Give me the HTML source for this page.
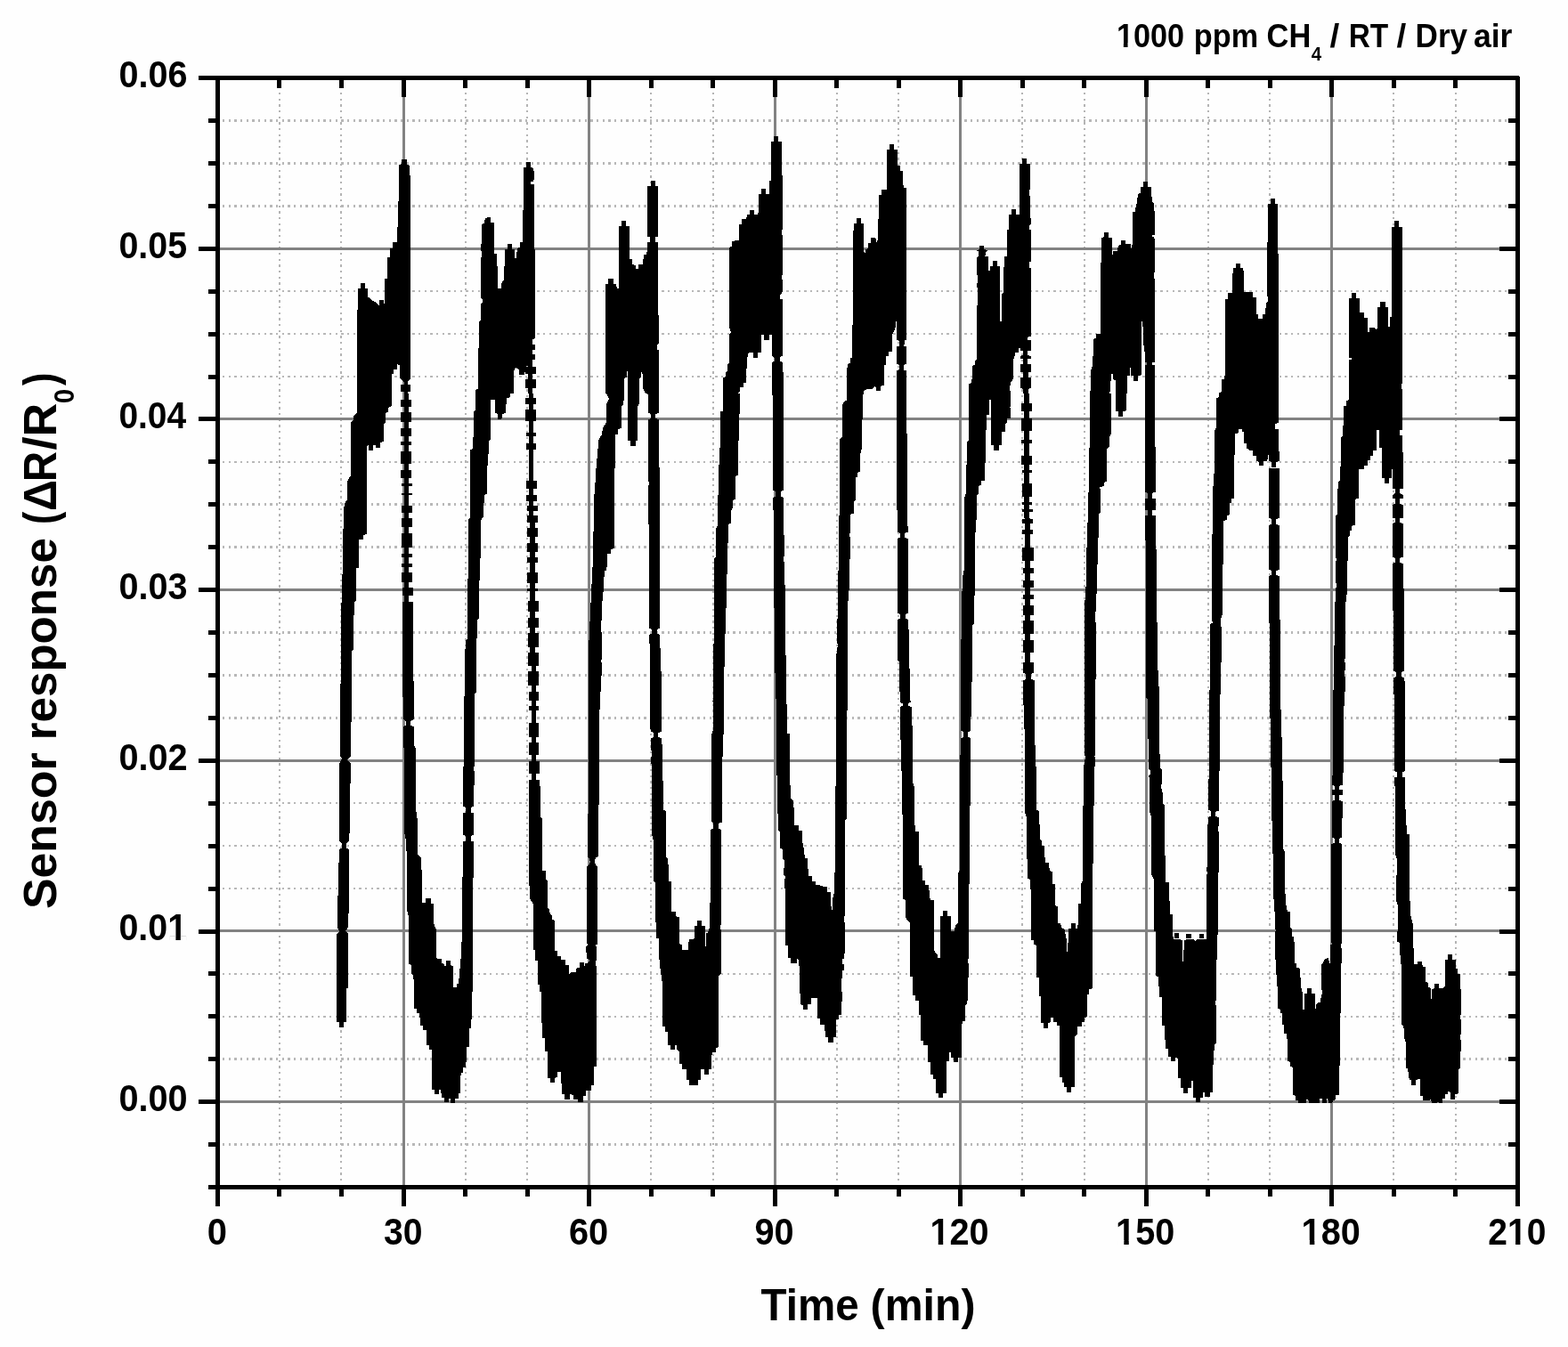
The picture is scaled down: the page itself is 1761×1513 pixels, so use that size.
<!DOCTYPE html>
<html lang="en"><head><meta charset="utf-8"><title>Sensor response</title>
<style>html,body{margin:0;padding:0;background:#fff}body{width:1761px;height:1513px;overflow:hidden}svg{display:block}text{font-family:"Liberation Sans",Arial,Helvetica,sans-serif;font-weight:bold;fill:#000}</style></head><body>
<svg width="1761" height="1513" viewBox="0 0 1761 1513">
<rect width="1761" height="1513" fill="#fefefe"/>
<g shape-rendering="crispEdges" stroke="#b4b4b4" stroke-width="2" stroke-dasharray="2.3 4.367" fill="none">
<path d="M314 104V1330"/>
<path d="M383 104V1330"/>
<path d="M523 104V1330"/>
<path d="M592 104V1330"/>
<path d="M731 104V1330"/>
<path d="M801 104V1330"/>
<path d="M940 104V1330"/>
<path d="M1009 104V1330"/>
<path d="M1148 104V1330"/>
<path d="M1218 104V1330"/>
<path d="M1357 104V1330"/>
<path d="M1426 104V1330"/>
<path d="M1565 104V1330"/>
<path d="M1635 104V1330"/>
</g>
<g shape-rendering="crispEdges" stroke="#b8b8b8" stroke-width="2.5" stroke-dasharray="2.3 4.367" fill="none">
<path d="M250 1285.6H1694"/>
<path d="M250 1189.7H1694"/>
<path d="M250 1141.8H1694"/>
<path d="M250 1093.9H1694"/>
<path d="M250 998.0H1694"/>
<path d="M250 950.1H1694"/>
<path d="M250 902.2H1694"/>
<path d="M250 806.3H1694"/>
<path d="M250 758.4H1694"/>
<path d="M250 710.5H1694"/>
<path d="M250 614.6H1694"/>
<path d="M250 566.7H1694"/>
<path d="M250 518.8H1694"/>
<path d="M250 423.0H1694"/>
<path d="M250 375.0H1694"/>
<path d="M250 327.1H1694"/>
<path d="M250 231.3H1694"/>
<path d="M250 183.3H1694"/>
<path d="M250 135.4H1694"/>
</g>
<g shape-rendering="crispEdges" stroke="#828282" stroke-width="3" fill="none">
<path d="M453.0 90V1331"/>
<path d="M661.6 90V1331"/>
<path d="M870.1 90V1331"/>
<path d="M1078.7 90V1331"/>
<path d="M1287.2 90V1331"/>
<path d="M1495.8 90V1331"/>
<path d="M247 1237.6H1702"/>
<path d="M247 1045.9H1702"/>
<path d="M247 854.3H1702"/>
<path d="M247 662.6H1702"/>
<path d="M247 470.9H1702"/>
<path d="M247 279.2H1702"/>
</g>
<g shape-rendering="crispEdges" fill="#000">
<polygon points="1064.0,1046.0 1088.0,1046.0 1088.0,1076.0 1087.0,1077.0 1087.0,1082.0 1088.0,1083.0 1087.6,1094.0 1087.0,1123.0 1086.0,1124.0 1085.6,1128.4 1084.0,1129.0 1083.6,1146.9 1081.0,1147.5 1080.0,1151.9 1080.0,1187.9 1076.4,1188.3 1076.0,1192.9 1071.0,1192.9 1070.6,1187.9 1068.0,1187.5 1067.6,1182.3 1066.0,1181.9 1065.6,1191.5 1064.0,1191.5"/>
<polygon points="1157.9,1046.0 1157.9,1055.6 1160.9,1056.0 1161.3,1061.0 1163.9,1061.6 1164.3,1097.6 1166.9,1098.0 1167.3,1119.0 1168.9,1119.6 1169.3,1148.9 1171.9,1149.3 1171.9,1154.9 1176.9,1154.9 1177.3,1148.9 1179.5,1148.5 1179.9,1143.3 1182.9,1143.3 1183.3,1147.9 1186.9,1148.3 1187.3,1151.9 1189.9,1152.3 1190.3,1209.9 1192.9,1210.3 1193.3,1215.9 1194.9,1216.3 1195.3,1220.9 1197.9,1221.3 1197.9,1226.9 1202.9,1226.9 1203.3,1220.9 1206.9,1220.5 1207.3,1163.9 1209.9,1161.9 1210.3,1152.9 1214.9,1152.5 1215.3,1147.9 1217.9,1147.5 1218.3,1142.9 1220.9,1142.3 1221.3,1117.0 1222.9,1116.4 1222.9,1111.0 1226.9,1110.4 1226.9,1046.0 1199.9,1046.0 1199.3,1066.0 1197.9,1072.0 1197.5,1054.0 1195.9,1046.0"/>
<polygon points="1297.9,1046.0 1298.3,1096.4 1300.9,1097.0 1301.3,1102.0 1301.9,1119.6 1304.9,1120.0 1305.3,1151.9 1307.9,1152.3 1308.3,1165.9 1309.5,1177.9 1311.9,1178.3 1312.3,1186.9 1314.9,1187.3 1315.3,1191.9 1319.9,1191.9 1320.3,1187.9 1322.9,1188.9 1323.3,1210.9 1325.9,1211.3 1326.3,1221.9 1328.8,1222.3 1328.8,1227.9 1333.8,1227.9 1334.2,1221.9 1337.8,1221.5 1338.2,1213.9 1339.8,1214.3 1340.2,1232.9 1342.8,1233.3 1342.8,1237.9 1347.8,1237.9 1348.2,1232.9 1350.8,1232.5 1351.2,1226.9 1352.8,1226.9 1353.2,1231.9 1358.8,1231.9 1359.2,1226.9 1361.8,1226.5 1362.2,1199.9 1363.2,1188.9 1363.8,1172.9 1365.8,1172.3 1365.8,1130.0 1364.8,1128.0 1365.8,1123.0 1366.2,1078.0 1367.2,1077.0 1367.2,1050.0 1368.2,1049.0 1368.2,1046.0 1355.2,1046.0 1354.8,1055.0 1343.8,1055.0 1342.8,1057.0 1340.8,1055.0 1329.8,1055.6 1329.2,1080.0 1328.2,1080.0 1327.9,1055.6 1317.9,1055.0 1316.9,1046.0"/>
<polygon points="1088.0,441.8 1088.4,430.8 1091.4,430.2 1092.0,410.8 1095.0,410.2 1095.4,404.8 1097.0,404.2 1097.4,343.9 1098.0,337.9 1097.4,319.9 1098.0,311.9 1097.0,305.9 1097.4,288.9 1099.0,287.9 1099.4,281.9 1097.0,281.5 1100.0,279.9 1100.0,275.5 1105.0,275.5 1105.4,279.9 1109.0,281.5 1107.0,282.9 1106.4,287.5 1110.0,288.3 1110.4,303.9 1112.0,303.5 1112.4,298.9 1115.0,298.5 1115.0,292.9 1120.0,292.9 1120.4,298.9 1123.0,299.3 1123.4,360.9 1124.6,360.9 1125.0,330.9 1127.0,328.9 1127.4,301.9 1128.4,288.3 1131.0,287.9 1131.4,258.3 1133.0,257.9 1133.4,240.9 1136.0,240.5 1136.0,234.9 1141.0,234.9 1141.4,240.5 1145.0,240.9 1145.4,184.0 1148.0,183.6 1148.0,178.4 1152.9,178.4 1153.3,184.0 1156.9,184.4 1156.9,213.0 1155.9,214.0 1156.5,220.0 1156.9,244.9 1157.9,245.9 1157.9,251.9 1155.9,252.9 1155.9,257.9 1157.9,258.3 1157.9,293.9 1155.9,294.3 1155.9,300.9 1157.9,301.5 1157.9,377.9 1153.9,378.9 1153.9,381.9 1157.9,382.3 1157.9,393.5 1154.3,393.9 1153.9,398.9 1157.9,399.9 1157.9,402.9 1153.9,403.5 1153.9,408.8 1157.9,409.4 1157.9,417.8 1154.9,418.2 1154.9,423.8 1157.9,424.2 1157.9,435.8 1154.9,436.8 1154.9,441.8 1149.0,441.8 1149.0,436.8 1146.0,435.8 1146.0,424.2 1149.0,423.8 1149.0,418.2 1146.0,417.8 1146.0,409.4 1149.0,408.8 1149.0,403.5 1146.0,402.9 1146.0,399.9 1149.0,398.9 1149.0,393.9 1146.0,393.5 1146.0,390.9 1144.0,391.3 1143.6,395.5 1140.4,395.9 1139.6,399.9 1138.4,402.9 1138.0,425.8 1135.0,429.8 1134.0,435.8 1135.0,441.8"/>
<polygon points="1223.9,441.8 1224.9,437.8 1225.3,415.8 1227.3,409.8 1227.9,380.9 1230.9,379.9 1231.3,375.5 1235.9,374.9 1236.3,309.9 1236.9,266.9 1239.9,266.3 1239.9,261.3 1244.9,261.3 1245.3,266.5 1248.9,266.9 1249.3,287.9 1249.9,282.3 1254.9,281.9 1255.9,275.9 1258.9,274.9 1258.9,269.5 1263.9,269.5 1264.3,274.3 1269.9,274.3 1270.3,279.9 1271.9,272.9 1272.3,237.9 1274.9,237.5 1275.9,230.9 1276.9,228.0 1277.9,218.0 1280.9,217.0 1281.3,210.0 1283.9,209.6 1284.3,204.4 1288.9,204.4 1289.3,210.0 1292.9,210.4 1293.3,217.0 1293.9,227.0 1295.9,228.0 1296.3,236.9 1296.9,237.9 1296.9,263.9 1293.9,264.3 1293.9,265.5 1295.9,265.9 1296.9,269.9 1296.9,305.9 1295.9,306.9 1295.9,312.9 1296.9,313.9 1296.9,406.8 1293.9,407.4 1293.9,409.8 1296.9,410.2 1296.9,441.8 1286.3,441.8 1286.3,410.2 1287.9,409.8 1287.9,407.4 1285.9,406.8 1285.3,388.9 1283.9,387.9 1283.5,366.9 1282.5,360.9 1281.9,361.9 1281.9,421.4 1277.9,421.8 1277.9,427.8 1272.9,427.8 1272.9,422.2 1269.9,421.8 1269.5,412.8 1268.9,421.8 1266.3,422.2 1265.9,441.8 1252.9,441.8 1252.9,426.8 1250.3,426.4 1249.9,419.8 1247.9,419.4 1247.3,432.8 1246.3,441.8"/>
<polygon points="1368.8,441.8 1371.8,439.8 1372.2,426.2 1374.8,425.8 1375.8,419.8 1376.2,336.3 1378.8,335.9 1379.2,328.9 1383.8,328.9 1384.2,312.9 1384.8,301.5 1387.8,300.9 1387.8,295.5 1392.8,295.5 1393.2,300.9 1396.2,301.5 1396.8,305.9 1397.2,327.9 1401.8,328.3 1401.8,333.9 1402.2,328.3 1406.8,328.3 1407.2,333.9 1410.8,334.3 1411.2,352.9 1412.8,353.5 1413.2,357.9 1416.0,358.3 1416.0,441.8"/>
<polygon points="1088.0,442.0 1088.0,495.0 1086.0,496.0 1085.6,522.0 1084.6,526.0 1084.6,554.9 1083.0,559.9 1083.0,639.9 1081.6,643.9 1081.0,661.9 1080.0,665.9 1079.6,717.8 1079.0,721.8 1079.0,743.8 1092.0,743.8 1092.0,701.9 1093.6,700.9 1094.0,669.9 1095.0,667.9 1095.0,601.9 1096.4,590.9 1097.0,555.9 1099.0,554.9 1099.4,545.9 1102.0,544.9 1102.4,539.9 1106.0,539.5 1106.4,525.0 1107.0,501.0 1108.0,466.0 1111.0,465.6 1111.4,449.0 1113.0,449.0 1113.4,500.0 1116.0,500.4 1116.4,506.0 1122.0,506.0 1122.4,500.0 1125.0,499.6 1125.4,485.0 1129.0,484.6 1129.4,476.0 1131.0,475.0 1131.4,470.0 1135.0,469.6 1135.0,458.0 1134.0,457.6 1135.0,457.0 1135.0,442.0"/>
<polygon points="1223.9,442.0 1223.9,502.0 1222.9,504.0 1222.9,551.9 1221.9,553.9 1221.9,585.9 1220.9,587.9 1220.9,613.9 1219.9,615.9 1219.9,657.9 1218.9,659.9 1218.3,681.9 1217.9,721.8 1218.3,743.8 1230.9,743.8 1230.9,699.9 1230.3,697.9 1230.9,667.9 1231.9,665.9 1231.9,634.9 1232.9,632.9 1232.9,604.9 1233.9,602.9 1233.9,577.9 1235.9,575.9 1235.9,553.9 1235.3,546.9 1239.5,546.3 1239.9,541.9 1242.9,540.9 1243.3,504.0 1245.9,502.0 1246.3,490.0 1247.9,488.0 1247.9,442.0"/>
<polygon points="1252.9,442.0 1252.9,461.4 1255.9,462.0 1256.3,467.6 1260.9,467.6 1261.3,462.0 1264.9,461.4 1264.9,442.0"/>
<polygon points="1286.3,442.0 1286.3,552.9 1289.3,553.9 1289.3,559.5 1286.3,560.3 1286.3,572.9 1289.3,573.5 1289.3,578.9 1286.3,579.5 1286.3,605.9 1286.9,607.9 1286.9,743.8 1299.9,743.8 1299.9,699.9 1298.9,697.9 1298.9,617.9 1297.9,615.9 1297.9,579.5 1293.9,578.9 1293.9,573.5 1297.9,572.9 1297.9,560.3 1293.9,559.5 1293.9,553.9 1297.9,552.9 1297.9,502.0 1296.9,501.0 1296.9,442.0"/>
<polygon points="1368.8,442.0 1368.8,446.4 1366.2,447.0 1365.8,481.0 1364.4,483.0 1363.8,531.9 1362.8,533.9 1362.4,549.9 1361.8,597.9 1361.2,601.9 1361.2,697.9 1362.8,698.9 1359.2,700.9 1359.2,743.8 1371.8,743.8 1371.8,705.9 1370.8,700.9 1371.8,691.9 1372.8,690.9 1372.8,635.9 1373.8,633.9 1373.8,586.9 1374.8,584.9 1377.8,583.9 1378.2,578.9 1380.8,578.3 1381.2,565.5 1382.8,564.9 1383.2,559.9 1385.8,559.5 1386.2,539.9 1386.8,487.0 1390.8,486.4 1391.2,482.0 1394.8,482.0 1395.2,485.0 1396.8,485.4 1397.2,498.0 1399.8,498.4 1400.2,504.0 1401.8,504.4 1403.8,506.0 1406.8,506.4 1407.2,512.0 1410.8,512.4 1412.8,518.0 1414.8,522.0 1416.0,522.4 1416.0,442.0"/>
<polygon points="1079.0,744.0 1079.0,821.0 1082.0,822.0 1082.0,828.0 1079.0,829.0 1078.0,867.9 1077.6,977.9 1076.4,979.9 1076.0,1036.8 1074.0,1037.8 1072.0,1042.8 1072.0,1045.8 1088.0,1045.8 1088.0,993.9 1089.0,991.9 1089.0,905.9 1090.0,903.9 1090.0,829.0 1087.0,828.0 1087.0,822.0 1090.0,821.0 1090.0,806.0 1091.0,804.0 1091.0,766.0 1092.0,765.0 1092.0,744.0"/>
<polygon points="1149.0,744.0 1149.0,756.0 1152.0,757.0 1152.0,763.0 1149.0,764.0 1150.0,818.0 1151.0,820.0 1151.4,913.9 1152.9,917.9 1152.9,957.9 1153.9,969.9 1154.3,986.9 1156.9,987.9 1157.3,997.9 1157.9,999.9 1157.9,1045.8 1195.9,1045.8 1195.9,1043.8 1192.9,1042.8 1190.9,1037.4 1187.9,1036.8 1187.9,1017.8 1184.9,1017.4 1184.9,992.9 1181.9,992.5 1181.5,978.9 1178.9,978.3 1177.9,968.9 1173.9,968.5 1173.5,962.9 1172.9,949.9 1170.3,949.5 1169.9,943.9 1167.9,942.9 1167.5,925.9 1166.9,910.9 1163.9,909.9 1163.9,861.9 1162.9,859.9 1162.9,837.9 1161.9,835.9 1161.9,764.0 1157.9,763.0 1157.9,757.0 1160.9,756.0 1160.9,744.0"/>
<polygon points="1217.9,744.0 1217.9,847.9 1218.9,849.9 1217.9,857.9 1216.9,859.9 1216.9,903.9 1215.9,905.9 1215.9,989.9 1214.3,991.9 1213.9,1014.8 1211.3,1015.4 1210.9,1038.8 1209.9,1039.8 1209.9,1045.8 1226.9,1045.8 1226.9,970.9 1227.9,969.9 1227.9,905.9 1228.9,903.9 1228.9,861.9 1229.9,859.9 1229.9,850.9 1228.9,849.9 1229.9,847.9 1229.9,764.0 1230.9,763.0 1230.9,744.0"/>
<polygon points="1286.9,744.0 1286.9,784.0 1288.9,785.0 1289.5,830.0 1289.9,863.9 1291.9,865.9 1291.9,869.9 1289.9,870.9 1290.9,873.9 1291.3,911.9 1292.9,917.9 1293.3,982.9 1295.9,987.9 1295.9,1045.8 1316.9,1045.8 1316.9,1027.4 1313.9,1026.8 1313.9,1012.8 1313.3,1011.8 1312.9,991.3 1308.9,990.9 1308.9,961.9 1307.9,960.9 1307.9,903.9 1306.3,902.9 1305.9,891.9 1304.9,887.9 1303.9,881.9 1304.9,880.9 1304.9,863.9 1302.9,862.9 1302.9,847.9 1301.9,846.9 1301.5,771.0 1300.9,753.0 1299.9,752.0 1299.9,744.0"/>
<polygon points="1358.8,744.0 1358.8,774.0 1357.8,776.0 1357.8,871.9 1356.8,883.9 1357.2,909.9 1359.8,910.9 1359.8,916.9 1356.8,917.9 1356.8,925.9 1355.8,927.9 1355.8,973.9 1354.8,975.9 1355.8,979.9 1354.8,987.9 1354.8,1045.8 1367.8,1045.8 1367.8,981.9 1368.8,979.9 1368.8,935.9 1367.8,929.9 1368.8,927.9 1368.8,917.9 1364.8,916.9 1364.8,911.9 1368.8,910.9 1368.8,867.9 1369.8,865.9 1369.8,781.0 1370.8,780.0 1370.8,744.0"/>
<polygon points="1432.0,1046.0 1432.4,1078.0 1433.4,1080.0 1433.6,1107.0 1435.0,1108.0 1435.4,1133.0 1438.0,1134.0 1438.4,1137.9 1440.0,1138.3 1440.4,1150.9 1442.0,1151.5 1442.4,1160.9 1445.0,1161.5 1445.4,1166.9 1446.4,1167.9 1446.4,1191.9 1449.0,1192.9 1449.4,1197.9 1451.4,1198.9 1452.0,1201.9 1452.4,1229.9 1455.0,1230.9 1455.4,1235.9 1458.0,1236.3 1458.4,1238.9 1467.0,1238.9 1467.4,1234.9 1470.0,1235.9 1470.4,1238.9 1482.0,1238.9 1482.4,1233.9 1485.0,1233.9 1485.4,1238.9 1490.0,1238.9 1490.4,1233.9 1491.4,1234.9 1491.8,1238.9 1496.4,1238.9 1497.0,1235.9 1499.9,1235.3 1500.3,1229.9 1503.9,1229.5 1504.3,1197.9 1504.9,1195.9 1505.3,1137.9 1506.3,1136.9 1505.9,1094.0 1506.9,1074.0 1506.3,1060.0 1506.9,1059.0 1506.9,1046.0 1495.0,1046.0 1495.0,1059.0 1497.0,1060.0 1494.4,1061.0 1494.0,1081.0 1493.0,1082.0 1492.0,1076.0 1488.0,1077.0 1485.4,1082.0 1484.0,1084.0 1484.6,1117.0 1483.4,1121.0 1483.0,1125.6 1481.0,1126.0 1478.0,1128.0 1477.4,1133.6 1477.0,1116.0 1473.4,1115.6 1473.0,1110.0 1468.0,1110.0 1468.0,1115.6 1465.4,1116.0 1465.0,1133.6 1463.0,1133.6 1462.6,1114.0 1461.4,1110.0 1460.4,1096.0 1460.0,1087.6 1456.0,1087.0 1456.0,1082.4 1454.0,1082.0 1453.4,1052.6 1451.4,1052.0 1451.0,1046.0"/>
<polygon points="1568.9,1046.0 1569.3,1058.0 1571.9,1059.0 1572.3,1068.0 1572.9,1082.0 1573.9,1084.0 1574.3,1150.9 1575.9,1152.9 1576.5,1154.9 1577.3,1165.9 1578.9,1170.9 1579.3,1199.9 1581.3,1200.9 1581.9,1208.9 1583.3,1212.9 1584.9,1213.5 1585.3,1218.9 1589.9,1218.9 1590.3,1212.9 1593.9,1211.9 1594.9,1212.9 1595.3,1230.9 1597.9,1231.5 1598.3,1235.9 1604.9,1235.9 1606.9,1234.9 1607.9,1238.9 1613.9,1238.9 1614.9,1236.9 1615.9,1238.9 1619.9,1238.9 1620.3,1233.9 1622.9,1233.5 1623.3,1229.5 1625.9,1228.9 1626.3,1225.9 1628.9,1226.9 1629.3,1234.9 1633.9,1234.9 1634.3,1228.9 1637.9,1228.3 1638.3,1200.9 1639.9,1199.9 1640.3,1181.9 1640.9,1179.9 1640.9,1169.9 1639.9,1165.9 1640.5,1161.9 1640.9,1145.9 1639.9,1143.9 1640.9,1137.9 1640.9,1111.0 1639.9,1110.0 1639.9,1094.0 1636.9,1093.6 1636.5,1088.0 1634.9,1087.6 1634.9,1078.0 1630.9,1077.6 1630.9,1072.0 1625.9,1072.0 1625.9,1077.6 1623.3,1078.0 1622.9,1108.0 1620.9,1110.0 1615.9,1110.4 1615.9,1105.4 1610.9,1105.4 1610.9,1110.4 1608.3,1111.0 1607.9,1122.0 1606.9,1122.0 1606.9,1109.6 1604.3,1109.0 1603.9,1104.0 1601.3,1103.0 1600.9,1086.0 1597.9,1085.6 1596.9,1080.4 1591.9,1080.4 1591.5,1083.0 1587.9,1083.0 1587.5,1065.0 1586.9,1064.0 1586.9,1046.0"/>
<polygon points="1409.0,441.8 1409.0,333.9 1411.0,334.3 1411.4,352.9 1413.0,353.5 1413.4,357.9 1418.0,357.9 1418.4,353.5 1421.0,352.9 1422.0,339.9 1424.0,338.9 1423.4,331.9 1423.0,271.9 1424.4,270.9 1424.4,228.9 1427.0,228.5 1427.0,223.4 1432.0,223.4 1432.4,228.9 1435.0,229.3 1435.0,284.9 1436.0,285.9 1436.0,441.8"/>
<polygon points="1514.9,441.8 1514.9,403.9 1517.9,403.5 1517.9,401.9 1514.9,401.5 1514.9,334.9 1517.9,334.5 1517.9,328.9 1522.9,328.9 1523.3,334.9 1526.9,335.3 1526.9,350.9 1531.9,351.3 1531.9,356.5 1535.9,356.9 1536.3,372.9 1537.9,372.9 1538.3,367.9 1543.9,367.9 1544.9,369.9 1546.9,368.9 1546.9,344.9 1549.9,344.5 1549.9,338.9 1555.9,338.9 1556.3,344.5 1558.9,344.9 1559.3,366.9 1561.3,366.9 1561.5,355.9 1562.9,355.5 1563.3,254.9 1565.9,254.5 1565.9,247.9 1570.9,247.9 1571.3,254.5 1574.9,254.9 1574.9,430.8 1573.9,431.8 1573.9,436.8 1574.9,437.8 1574.9,441.8"/>
<polygon points="1409.0,442.0 1436.0,442.0 1436.0,475.0 1432.0,476.0 1432.0,481.6 1436.0,482.0 1436.4,507.0 1437.0,508.0 1437.0,518.0 1433.0,519.0 1433.0,525.0 1428.0,525.0 1428.0,519.0 1425.4,518.0 1425.0,513.0 1424.0,509.0 1423.4,517.6 1419.0,518.0 1418.6,523.0 1414.0,523.0 1413.6,518.0 1411.0,517.6 1410.6,512.0 1409.0,511.6"/>
<polygon points="1425.0,526.0 1425.0,581.9 1428.0,582.9 1428.0,588.9 1425.0,589.9 1425.0,639.9 1428.0,640.9 1428.0,645.9 1425.0,646.9 1425.0,698.9 1426.0,700.9 1426.4,743.8 1438.0,743.8 1438.0,696.9 1437.0,695.9 1437.0,646.9 1433.0,645.9 1433.0,640.9 1437.0,639.9 1437.0,589.9 1433.0,588.9 1433.0,582.9 1437.0,581.9 1437.0,526.0"/>
<polygon points="1514.9,442.0 1514.5,449.6 1511.9,450.0 1511.9,455.6 1508.9,456.0 1508.3,490.0 1506.3,491.0 1505.9,524.0 1504.9,525.0 1504.9,540.3 1502.9,540.9 1502.5,548.9 1501.9,577.9 1500.3,578.9 1499.9,625.9 1500.9,627.9 1499.9,633.9 1500.3,653.9 1500.9,655.9 1499.9,665.9 1499.3,681.9 1498.9,723.8 1497.9,725.8 1497.9,743.8 1509.9,743.8 1510.9,737.8 1510.9,676.9 1511.9,675.9 1512.5,668.9 1512.9,630.9 1513.9,629.9 1514.3,602.9 1515.9,601.9 1516.3,595.9 1517.9,595.5 1517.9,590.9 1521.9,589.9 1521.9,561.9 1522.9,559.9 1525.9,559.5 1526.3,527.0 1531.9,526.6 1532.3,523.0 1535.9,522.6 1536.3,517.0 1538.9,516.6 1539.3,512.0 1541.9,511.6 1542.3,506.4 1545.9,506.0 1546.3,483.0 1548.9,483.0 1549.3,503.0 1551.9,503.4 1552.3,536.9 1554.9,537.3 1555.3,542.5 1559.9,542.5 1560.3,536.9 1562.9,536.5 1563.3,527.0 1564.3,528.0 1564.3,548.9 1566.9,549.5 1566.9,553.9 1564.3,555.9 1564.3,559.9 1566.9,560.3 1566.9,565.9 1564.3,566.9 1564.3,581.9 1566.9,582.3 1566.9,586.9 1564.3,587.9 1564.3,625.9 1566.9,626.9 1566.9,631.9 1564.3,632.9 1564.3,685.9 1565.3,687.9 1565.3,743.8 1576.9,743.8 1576.9,661.9 1575.9,659.9 1575.9,632.9 1571.9,631.9 1571.9,626.9 1575.9,625.9 1575.9,587.9 1571.9,586.9 1571.9,582.3 1575.9,581.9 1575.9,566.9 1571.9,565.9 1571.9,560.3 1575.9,559.9 1575.9,555.9 1571.9,553.9 1571.9,549.5 1575.9,548.9 1575.9,508.0 1574.9,507.0 1574.9,489.0 1571.9,488.4 1571.9,483.0 1574.9,482.6 1574.9,442.0"/>
<polygon points="1426.4,744.0 1426.4,804.0 1427.4,828.0 1427.6,889.9 1428.4,917.9 1429.6,962.9 1430.6,1013.8 1432.0,1029.8 1432.6,1045.8 1451.0,1045.8 1451.0,1043.8 1449.0,1041.8 1448.6,1024.2 1446.0,1023.8 1444.6,1018.8 1444.0,1004.9 1443.0,1003.9 1442.6,955.9 1441.0,952.9 1441.0,877.9 1440.0,875.9 1440.0,829.0 1439.4,828.0 1439.0,798.0 1438.0,797.0 1438.0,744.0"/>
<polygon points="1497.9,744.0 1497.5,776.0 1497.0,824.0 1496.4,881.9 1498.9,882.9 1498.9,886.9 1496.4,887.5 1496.4,892.9 1498.9,893.5 1498.9,898.9 1496.4,899.9 1496.4,940.9 1498.9,941.9 1498.9,946.9 1495.4,947.9 1495.0,1045.8 1506.9,1045.8 1506.9,947.9 1503.9,946.9 1503.9,941.9 1506.9,940.9 1506.9,919.9 1507.9,917.9 1507.9,899.9 1503.9,898.9 1503.9,893.5 1507.9,892.9 1507.9,887.5 1503.9,886.9 1503.9,882.9 1507.9,881.9 1507.9,868.9 1508.9,866.9 1508.9,794.0 1509.5,793.0 1509.9,778.0 1510.9,776.0 1510.9,764.0 1509.9,754.0 1510.9,752.0 1510.5,744.0"/>
<polygon points="1565.3,744.0 1565.3,754.0 1568.3,755.0 1568.3,760.0 1565.3,761.0 1565.9,814.0 1566.3,865.9 1568.9,867.5 1568.9,872.9 1566.3,873.5 1566.3,882.9 1567.3,884.9 1567.5,960.9 1568.5,963.9 1568.5,982.9 1567.9,984.9 1568.3,1012.8 1569.5,1015.8 1569.5,1045.8 1586.9,1045.8 1586.9,1037.8 1585.9,1036.8 1585.3,1030.8 1584.3,1028.8 1583.9,1012.8 1582.9,1011.8 1582.9,937.3 1580.3,936.9 1580.3,928.9 1579.3,926.9 1578.9,909.9 1578.3,908.9 1577.9,873.5 1574.9,872.9 1574.9,867.5 1577.9,865.9 1577.9,766.0 1576.5,761.0 1573.9,760.0 1573.9,755.0 1576.9,754.0 1576.9,744.0"/>
<polygon points="381.0,1046.0 378.0,1049.0 378.0,1147.9 381.0,1148.3 381.0,1153.9 386.0,1153.9 386.0,1148.3 389.0,1147.9 389.0,1110.0 391.0,1109.6 391.0,1049.0 388.0,1046.0"/>
<polygon points="458.9,1046.0 459.3,1083.0 461.9,1083.6 462.3,1094.0 464.3,1095.0 464.9,1110.0 465.3,1133.0 467.9,1133.4 468.5,1137.9 471.3,1138.3 471.9,1151.9 474.9,1152.3 475.3,1156.9 478.9,1157.3 479.3,1173.9 481.9,1174.3 482.3,1178.9 484.9,1179.3 485.3,1223.9 487.9,1224.3 488.3,1228.9 492.9,1228.9 493.3,1223.9 495.3,1224.9 495.9,1232.9 498.9,1233.3 499.3,1237.9 503.9,1237.9 504.3,1233.9 505.9,1233.9 506.3,1238.9 510.9,1238.9 511.3,1233.9 514.9,1233.5 515.3,1228.3 516.9,1227.9 517.3,1208.9 518.3,1204.9 519.9,1204.5 520.3,1198.9 522.9,1198.5 523.5,1192.9 524.3,1175.9 526.9,1175.5 527.3,1154.9 528.9,1154.5 529.9,1138.9 530.3,1114.0 530.9,1113.0 531.3,1046.0 519.3,1046.0 519.3,1057.0 517.9,1058.0 517.3,1087.0 515.9,1088.0 515.3,1104.6 513.3,1105.0 512.9,1109.4 509.3,1109.0 508.9,1085.0 506.3,1084.4 505.9,1079.0 500.9,1079.0 500.9,1084.4 499.3,1085.0 498.9,1082.6 496.3,1082.0 495.9,1077.4 490.9,1077.0 490.3,1075.0 489.9,1046.0"/>
<polygon points="598.9,1046.0 599.3,1067.0 601.3,1067.6 601.5,1079.0 603.9,1079.4 604.3,1106.0 605.9,1106.4 606.3,1114.0 607.9,1114.4 608.3,1147.9 608.9,1151.9 609.3,1165.9 611.9,1166.3 612.3,1180.9 614.9,1181.3 615.3,1210.9 617.9,1211.3 618.3,1215.9 622.9,1215.9 623.3,1210.9 625.8,1209.9 626.2,1203.9 629.8,1203.5 630.2,1211.9 631.2,1228.9 633.8,1229.3 634.2,1234.9 639.8,1234.9 640.2,1228.9 643.8,1229.9 644.2,1234.9 648.8,1235.3 649.2,1238.3 654.8,1238.3 655.2,1230.9 657.8,1230.5 658.2,1224.9 663.8,1224.5 664.2,1218.9 666.8,1218.5 667.2,1197.9 669.8,1197.5 670.2,1085.0 668.8,1084.0 669.8,1077.0 670.2,1063.0 668.8,1062.0 671.2,1060.0 671.2,1046.0 659.2,1046.0 659.2,1060.0 660.8,1062.0 658.2,1063.0 658.8,1077.0 662.8,1078.0 659.8,1082.0 657.2,1082.4 656.2,1086.0 655.8,1081.0 651.2,1081.0 650.8,1086.6 647.8,1087.0 646.8,1092.0 640.8,1092.0 639.2,1095.0 638.8,1084.0 635.2,1083.6 634.8,1078.4 630.2,1078.0 629.8,1074.4 626.2,1074.0 625.8,1068.4 623.3,1068.0 622.9,1046.0"/>
<polygon points="401.4,441.8 401.4,353.9 402.0,323.9 405.0,323.5 405.0,317.9 410.0,317.9 410.4,323.5 413.0,323.9 413.0,333.9 416.0,334.9 418.0,337.9 421.0,338.9 424.0,340.9 425.6,342.9 426.0,336.9 431.0,336.9 431.6,341.9 432.0,312.9 435.0,312.9 435.4,288.9 438.0,288.9 438.4,278.9 441.0,278.9 441.4,271.9 446.0,271.9 446.4,257.9 447.4,235.9 448.0,185.0 450.9,184.4 450.9,179.0 456.9,179.0 457.3,185.0 459.9,185.6 460.9,204.0 460.9,425.8 456.9,428.8 452.9,428.8 448.9,423.8 448.9,409.8 446.0,409.4 445.6,414.8 442.0,415.4 441.6,419.8 440.0,420.8 440.0,441.8"/>
<polygon points="533.9,441.8 534.3,437.8 536.9,436.8 537.9,361.9 539.9,359.9 540.5,340.9 541.9,339.9 541.9,335.9 540.5,334.9 540.3,291.9 540.9,283.9 539.9,279.9 540.9,269.9 541.3,251.9 543.9,250.9 544.9,244.9 550.9,243.9 551.3,249.9 554.9,249.9 555.3,284.9 557.9,284.9 558.5,298.9 559.1,323.9 562.9,323.9 563.5,317.9 565.9,313.9 567.3,279.9 569.9,279.9 570.3,274.3 574.9,274.3 575.5,279.9 577.5,279.9 578.3,289.9 579.9,289.9 580.5,282.9 581.3,278.9 583.9,277.9 584.3,271.9 586.9,271.9 587.3,251.9 587.9,207.0 588.3,188.0 590.9,187.6 591.3,182.4 595.9,182.4 596.3,188.0 598.9,189.0 599.9,194.0 599.9,200.0 598.9,204.0 596.3,204.4 595.9,207.0 599.5,207.4 599.9,269.9 600.9,285.9 600.9,379.9 597.9,381.9 597.9,409.8 589.9,411.8 589.3,420.8 583.5,420.8 582.9,414.8 578.9,412.8 576.9,417.8 576.9,441.8"/>
<polygon points="680.4,441.8 679.8,389.9 680.4,318.9 683.2,318.5 683.4,313.3 688.8,313.3 689.2,318.9 692.2,319.3 692.8,323.9 694.8,323.9 695.2,253.9 697.8,253.5 698.2,248.3 703.2,248.3 703.4,253.5 706.8,253.9 707.4,290.9 709.8,291.3 709.8,296.9 712.0,296.9 712.0,441.8 704.8,441.8 704.8,414.8 703.8,423.8 700.8,424.8 700.8,441.8"/>
<polygon points="401.4,442.0 401.0,464.0 397.0,467.0 396.6,472.0 394.4,474.0 394.4,500.0 394.0,533.9 390.4,539.9 390.0,561.9 388.0,562.9 386.4,569.9 386.0,585.9 385.0,601.9 385.0,641.9 384.0,647.9 384.0,675.9 383.0,677.9 383.0,743.8 395.0,743.8 395.0,730.8 397.0,729.8 397.6,684.9 398.0,676.9 399.6,674.9 400.0,638.3 402.6,637.5 403.0,605.9 407.6,605.5 408.0,600.9 412.0,599.9 412.0,501.0 414.0,500.0 414.4,505.6 418.6,505.6 419.0,500.0 422.0,500.0 422.4,502.6 426.6,502.6 427.0,497.0 431.0,496.0 431.0,476.0 432.6,475.0 433.0,464.0 435.6,463.0 436.0,458.0 440.0,456.0 440.0,442.0"/>
<polygon points="533.9,442.0 533.9,461.0 531.9,462.0 531.5,492.0 530.9,504.0 528.3,505.6 527.9,581.9 526.3,582.9 525.9,641.9 524.9,661.9 525.5,681.9 524.9,717.8 522.9,719.8 521.9,743.8 534.9,743.8 535.5,716.8 535.9,695.9 537.9,694.9 537.5,661.9 538.9,647.9 539.9,613.9 540.5,583.9 542.9,579.9 543.9,555.9 546.9,554.9 547.5,523.0 548.5,510.0 548.9,495.0 550.9,494.0 551.3,449.0 555.5,449.0 556.3,464.0 558.9,465.0 559.3,470.6 563.5,470.6 563.9,465.0 567.9,464.0 568.9,447.0 572.5,446.4 572.9,442.0"/>
<polygon points="680.8,442.0 683.8,448.0 680.8,454.0 680.8,475.0 677.8,479.0 675.4,489.0 672.2,494.0 671.4,506.0 669.8,522.0 668.8,537.9 667.4,556.9 666.8,581.9 665.8,631.9 664.2,661.9 662.8,691.9 661.4,721.8 660.8,743.8 675.4,743.8 675.8,734.8 675.4,699.9 676.4,675.9 677.8,661.9 678.8,641.9 681.4,639.9 682.2,621.9 685.8,621.5 686.2,616.9 689.8,615.9 690.2,569.9 690.8,488.0 693.8,487.6 694.2,482.0 697.8,481.0 698.2,456.0 700.4,454.0 700.8,442.0"/>
<polygon points="705.4,442.0 705.4,495.0 707.8,495.0 707.8,501.0 712.0,501.0 712.0,442.0"/>
<polygon points="383.0,744.0 382.4,774.0 382.0,849.9 384.0,851.9 381.0,857.9 381.0,943.9 384.0,947.9 384.0,952.9 381.0,953.9 380.0,983.9 379.0,1027.8 379.0,1041.8 381.0,1045.8 388.0,1045.8 391.0,1041.8 391.6,1023.8 392.0,983.9 392.0,953.9 389.0,952.9 389.0,947.9 392.0,943.9 393.0,927.9 393.6,871.9 394.0,857.9 390.0,852.9 394.0,849.9 395.0,774.0 395.0,744.0"/>
<polygon points="451.9,744.0 452.3,770.0 452.9,808.0 455.9,810.0 455.9,815.0 452.9,816.0 453.5,839.9 453.9,933.9 455.9,943.9 456.9,963.9 457.5,1023.8 458.9,1029.8 459.5,1045.8 489.9,1045.8 489.9,1043.8 487.3,1037.8 486.9,1015.4 483.9,1014.8 483.9,1008.8 477.9,1008.8 477.9,1013.8 474.3,1013.8 473.9,985.9 472.9,962.9 469.3,959.9 468.9,921.9 466.9,907.9 466.9,840.9 465.3,837.9 464.9,816.0 460.9,815.0 460.9,810.0 464.9,808.0 464.9,766.0 463.9,764.0 463.9,744.0"/>
<polygon points="521.9,744.0 521.9,774.0 520.9,796.0 520.9,859.9 519.9,863.9 519.9,905.9 522.9,906.9 522.9,912.9 519.9,912.9 519.9,937.9 522.9,938.9 522.9,944.9 519.9,944.9 519.9,983.9 518.9,985.9 518.9,1045.8 530.9,1045.8 530.9,988.9 531.5,986.9 531.9,944.9 528.9,944.9 528.9,938.9 531.9,937.9 531.9,912.9 528.9,912.9 528.9,906.9 531.9,905.9 532.9,867.9 531.9,863.9 532.9,859.9 532.9,780.0 534.9,778.0 534.9,744.0"/>
<polygon points="593.9,875.9 593.9,985.9 595.5,1009.8 598.9,1015.8 598.9,1045.8 623.3,1045.8 622.9,1033.8 620.5,1032.8 619.9,1027.8 617.9,1026.8 616.9,1020.8 615.5,1019.8 614.9,988.9 613.5,987.9 612.9,978.3 609.3,977.9 608.9,919.9 606.9,917.9 606.9,887.9 605.9,875.9"/>
<polygon points="660.8,744.0 660.8,913.9 659.8,915.9 659.8,961.9 661.8,963.9 662.8,968.9 659.2,973.9 659.2,1045.8 670.8,1045.8 670.8,973.9 667.8,968.9 668.8,963.9 671.8,961.9 671.8,905.9 672.8,903.9 672.8,798.0 673.8,796.0 674.8,770.0 675.8,754.0 675.8,744.0"/>
<polygon points="737.0,1046.0 737.0,1054.0 740.0,1054.4 740.4,1078.0 741.4,1080.0 741.6,1094.0 743.0,1095.0 743.4,1102.0 744.4,1103.0 744.4,1152.9 747.0,1153.3 747.4,1158.9 750.0,1159.3 750.4,1173.9 753.0,1174.3 753.4,1178.9 758.0,1178.9 758.4,1173.9 760.0,1174.3 760.6,1179.9 763.0,1180.9 763.4,1194.9 766.0,1195.3 766.4,1200.9 771.0,1201.3 771.4,1212.9 774.0,1213.3 774.4,1218.9 784.0,1218.9 784.4,1212.9 787.0,1212.5 787.4,1200.9 791.0,1200.9 791.4,1206.9 796.0,1206.9 796.0,1200.9 799.0,1200.5 799.4,1185.9 800.0,1181.9 803.9,1181.5 804.3,1176.9 806.9,1176.3 807.3,1096.0 809.9,1094.0 809.9,1046.0 795.0,1046.0 795.0,1047.6 793.0,1048.0 793.0,1063.0 792.0,1063.0 792.0,1046.0 780.0,1046.0 780.0,1054.4 774.0,1055.0 773.0,1060.4 772.6,1066.6 766.4,1066.6 766.4,1061.0 763.0,1060.4 763.0,1046.0"/>
<polygon points="881.9,1046.0 881.9,1061.6 884.9,1062.0 885.3,1076.0 887.9,1076.4 887.9,1082.0 894.9,1082.0 895.3,1077.0 896.9,1078.0 897.3,1085.0 898.3,1086.0 898.5,1116.4 899.3,1117.0 899.5,1128.4 901.9,1128.8 902.3,1133.6 906.9,1133.6 907.3,1128.4 910.9,1128.0 911.3,1121.0 917.5,1121.0 917.9,1143.9 920.9,1144.5 921.3,1150.5 925.9,1150.9 926.3,1157.9 927.3,1158.9 927.5,1164.9 929.9,1165.3 930.3,1170.9 935.9,1170.9 936.3,1164.9 938.9,1164.5 939.3,1144.9 941.9,1144.5 942.3,1139.9 944.9,1139.5 945.3,1125.0 945.9,1124.0 945.9,1114.0 944.9,1113.0 945.9,1090.0 947.9,1089.6 947.9,1083.0 945.9,1082.6 946.3,1077.0 947.9,1076.6 948.3,1071.0 949.3,1070.0 949.3,1046.0"/>
<polygon points="1021.8,1046.0 1022.2,1096.6 1024.8,1097.0 1025.2,1117.6 1027.8,1118.0 1028.2,1124.0 1031.8,1124.4 1032.4,1139.9 1033.8,1140.3 1034.2,1168.9 1036.8,1169.3 1037.2,1173.9 1041.8,1174.3 1042.2,1192.5 1044.8,1192.9 1045.2,1206.5 1047.8,1206.9 1048.2,1211.9 1050.8,1212.3 1051.2,1227.9 1053.8,1228.3 1054.2,1232.9 1058.8,1232.9 1059.2,1227.9 1062.8,1227.5 1063.2,1191.9 1064.0,1191.5 1064.0,1046.0 1055.8,1046.0 1055.8,1076.0 1052.8,1076.0 1052.4,1071.0 1049.8,1070.0 1049.2,1066.0 1048.8,1046.0"/>
<polygon points="712.0,297.9 714.0,297.9 714.4,302.3 717.0,302.3 717.4,297.5 722.0,297.1 722.4,291.9 723.4,286.3 726.4,285.9 727.0,272.3 730.0,271.9 730.4,265.9 727.4,265.5 727.4,209.0 731.0,208.6 731.0,203.0 736.0,203.0 736.0,208.6 739.0,209.0 739.0,265.5 736.0,265.9 735.6,271.9 739.0,272.3 739.4,353.9 740.0,354.9 740.0,385.9 738.0,386.9 738.0,392.9 740.0,393.5 740.0,441.8 725.0,441.8 722.0,435.8 721.4,416.8 720.4,417.8 720.0,423.8 718.4,424.8 718.0,441.8 712.0,441.8"/>
<polygon points="812.3,441.8 812.3,423.8 814.9,423.4 815.3,417.8 816.9,417.4 817.3,408.8 818.9,407.8 819.3,374.9 820.9,373.9 819.3,367.9 819.3,277.9 821.9,276.9 822.3,270.9 829.9,269.9 830.3,251.9 832.9,251.5 832.9,245.9 838.3,245.9 838.9,240.9 841.9,240.9 841.9,235.5 846.9,235.5 847.3,240.9 850.9,241.3 851.3,244.9 852.3,218.0 854.9,217.6 855.3,212.4 859.9,212.4 860.3,217.6 863.9,217.6 864.3,203.0 865.9,202.6 866.3,159.0 868.9,158.6 869.3,153.0 873.9,153.0 874.3,158.6 877.9,159.4 878.3,165.0 878.9,257.9 877.9,258.9 877.9,263.9 878.9,264.3 879.3,308.9 877.9,309.9 878.9,315.9 878.9,327.9 875.9,331.9 875.9,335.9 878.9,336.3 878.9,399.9 875.9,400.9 875.9,405.8 878.9,406.8 879.9,425.8 879.9,441.8 867.3,441.8 867.3,406.8 869.9,405.8 869.9,401.9 867.3,399.9 866.9,375.9 864.3,375.9 863.9,381.9 858.3,381.9 857.9,375.9 855.3,375.9 854.9,395.5 851.3,395.9 850.9,401.9 845.9,401.9 845.5,396.3 842.9,395.9 839.9,396.9 839.3,403.9 838.3,416.8 837.9,429.8 835.3,430.2 834.9,434.8 831.3,435.2 830.9,439.8 828.9,441.8"/>
<polygon points="950.9,441.8 951.3,415.8 951.9,408.8 954.9,407.8 955.3,401.9 956.9,401.5 957.5,365.9 958.3,335.9 957.9,329.9 957.9,259.9 959.3,257.9 959.5,250.9 961.9,250.5 961.9,244.9 967.3,244.9 967.5,250.5 969.9,250.9 970.3,282.9 971.5,283.9 971.9,279.9 974.9,279.3 975.3,273.5 977.8,272.9 978.2,266.9 983.4,266.9 983.8,271.9 985.4,271.9 986.2,258.9 987.2,219.0 989.8,218.6 990.2,213.0 995.8,213.0 996.2,168.0 998.8,167.6 998.8,162.0 1004.2,162.0 1004.4,167.6 1007.8,168.0 1008.2,186.0 1010.8,186.4 1011.2,191.6 1013.8,192.0 1014.2,207.0 1015.2,211.0 1017.8,211.4 1018.2,381.9 1015.8,382.3 1015.4,388.9 1018.2,389.3 1018.2,408.8 1015.4,409.8 1015.4,415.8 1018.2,416.2 1018.2,441.8 1007.2,441.8 1007.2,416.2 1009.8,415.4 1009.8,409.8 1007.2,408.8 1007.2,389.3 1009.8,388.5 1009.8,382.9 1007.2,381.9 1006.8,360.9 1005.8,361.9 1005.4,370.9 1003.8,371.9 1003.2,374.9 1001.8,375.9 1001.8,394.9 998.2,395.3 997.8,399.9 995.2,400.3 994.8,409.8 993.2,410.2 992.8,432.8 988.8,433.8 988.8,438.8 983.8,439.2 983.4,433.8 981.8,433.8 981.2,435.8 978.8,436.8 973.9,437.2 969.9,438.8 969.9,441.8"/>
<polygon points="712.0,442.0 718.0,442.0 717.6,454.0 716.4,456.0 716.4,495.0 714.0,495.6 714.0,501.0 712.0,501.0"/>
<polygon points="725.0,442.0 728.0,443.0 728.0,464.0 731.0,465.0 731.0,470.0 728.0,471.0 728.0,539.9 729.0,541.9 728.0,547.9 728.0,587.9 729.0,589.9 729.0,705.9 732.0,706.8 732.0,711.8 729.0,712.8 729.0,721.8 730.0,723.8 730.4,737.8 730.0,743.8 742.0,743.8 742.0,728.8 741.0,727.8 741.0,712.8 738.0,711.8 738.0,706.8 741.0,705.9 741.0,526.0 740.0,525.0 740.0,471.0 736.0,470.0 736.0,465.0 740.0,464.0 740.0,442.0"/>
<polygon points="811.9,442.0 811.9,462.0 808.9,462.4 808.9,502.0 807.9,504.0 807.5,522.0 806.9,551.9 805.9,561.9 805.5,591.9 803.9,592.9 803.9,625.9 801.9,626.9 801.9,721.8 800.9,725.8 800.9,743.8 813.9,743.8 813.9,712.8 814.9,711.8 814.9,683.9 815.9,681.9 815.9,645.9 816.9,643.9 816.9,611.9 817.5,609.9 817.9,588.9 820.9,587.9 820.9,573.9 822.5,570.9 822.9,561.9 825.9,560.9 825.9,534.9 828.9,533.9 829.5,496.0 829.9,466.0 830.9,464.0 830.9,442.0"/>
<polygon points="867.3,442.0 867.9,448.0 867.9,550.9 870.9,551.9 870.9,557.9 867.9,558.9 867.9,571.9 868.9,573.9 868.9,629.9 868.9,681.9 869.9,683.9 869.9,743.8 882.9,743.8 882.9,736.8 881.9,735.8 881.9,657.9 880.9,656.9 880.9,631.9 879.9,630.9 879.9,625.9 880.9,623.9 880.9,601.9 879.9,599.9 879.9,558.9 876.9,557.9 876.9,551.9 879.9,550.9 879.9,442.0"/>
<polygon points="950.9,442.0 950.9,450.0 947.9,451.0 945.9,456.0 945.5,492.0 943.3,493.0 942.9,577.9 941.9,579.9 941.9,639.9 940.9,641.9 940.9,693.9 939.9,695.9 939.9,721.8 940.9,723.8 939.3,735.8 939.3,743.8 951.9,743.8 951.9,675.9 952.9,674.9 952.9,663.9 953.9,661.9 953.9,628.9 954.9,627.9 954.9,604.9 953.9,599.9 954.9,597.9 954.9,577.9 958.9,576.9 958.9,562.9 960.9,561.9 960.9,535.9 962.9,535.5 962.9,530.9 965.9,530.0 965.9,510.0 966.9,509.0 967.9,502.0 967.9,472.0 968.9,471.0 968.9,444.0 969.9,442.0"/>
<polygon points="1007.2,442.0 1007.2,571.9 1008.2,573.9 1008.2,597.9 1011.2,598.9 1011.2,603.9 1008.2,604.9 1008.2,688.9 1011.2,689.9 1011.2,694.9 1008.2,695.9 1008.2,741.8 1009.8,743.8 1020.8,743.8 1020.8,706.8 1019.8,705.9 1019.8,695.9 1016.8,694.9 1016.8,689.9 1019.8,688.9 1019.8,604.9 1015.8,603.9 1015.8,598.9 1019.8,597.9 1019.8,591.9 1018.8,589.9 1018.8,487.0 1017.8,486.0 1017.8,442.0"/>
<polygon points="730.0,744.0 730.0,816.0 731.0,822.0 734.0,823.0 734.0,828.0 731.0,829.0 731.0,841.9 732.0,843.9 731.0,855.9 732.0,859.9 732.0,935.9 733.0,941.9 734.0,943.9 734.0,989.9 736.0,991.9 736.4,1035.8 737.0,1037.8 737.0,1045.8 763.0,1045.8 763.0,1029.8 759.0,1029.4 759.0,1024.2 754.0,1023.8 754.0,990.3 751.0,989.9 751.0,971.9 750.0,970.9 750.0,963.9 748.0,962.9 748.0,910.9 745.0,909.9 745.0,877.9 744.0,875.9 744.0,836.9 743.0,835.9 743.0,829.0 739.0,828.0 739.0,823.0 743.0,822.0 743.0,755.0 742.0,754.0 742.0,744.0"/>
<polygon points="800.9,744.0 800.5,788.0 800.9,820.0 799.4,824.0 799.0,922.9 800.9,924.9 800.9,930.9 798.0,931.9 798.0,1013.8 797.0,1014.8 797.0,1039.8 796.0,1045.8 809.9,1045.8 808.9,1041.8 809.9,1037.8 809.9,931.9 806.9,930.9 806.9,924.9 810.9,923.9 810.9,850.9 811.9,849.9 811.9,826.0 812.9,825.0 812.9,750.0 813.5,749.0 813.9,744.0"/>
<polygon points="869.9,744.0 870.9,764.0 871.9,798.0 871.9,869.9 872.9,871.9 872.9,899.9 873.5,913.9 874.3,932.9 875.9,933.9 876.3,952.9 878.9,953.9 879.5,964.9 880.9,965.9 881.3,973.9 879.9,975.9 880.5,982.9 881.9,983.9 881.9,986.9 880.9,987.9 881.3,997.9 882.3,998.9 882.3,1045.8 948.9,1045.8 948.9,1039.8 947.9,1029.8 948.9,1027.8 948.9,920.9 950.9,919.9 950.9,799.0 951.9,798.0 951.9,744.0 939.3,744.0 939.3,881.9 938.3,883.9 937.9,937.9 937.3,1003.5 935.9,1003.9 934.9,1015.8 935.5,1021.4 934.3,1021.8 933.3,1016.8 932.9,1002.3 929.3,1001.9 928.9,996.3 923.9,995.5 920.9,994.3 916.3,993.9 915.9,990.3 912.3,989.5 911.9,983.9 907.9,983.5 906.9,964.3 903.9,963.9 902.9,953.9 901.3,945.9 900.9,933.3 896.9,932.9 896.9,926.9 891.9,926.9 891.9,907.9 890.9,906.9 890.5,898.9 887.9,896.9 887.9,882.9 887.3,881.9 886.9,824.4 883.9,824.0 883.9,791.0 882.9,790.0 882.9,744.0"/>
<polygon points="1009.8,744.0 1009.8,770.0 1010.8,780.0 1011.2,789.0 1013.8,790.0 1013.8,793.0 1011.2,794.0 1011.2,830.0 1012.2,832.0 1012.2,861.9 1013.2,873.9 1013.2,913.9 1013.8,915.9 1013.8,931.9 1014.4,943.9 1014.4,1009.8 1016.8,1010.8 1017.2,1029.8 1018.8,1033.8 1021.8,1035.8 1022.2,1045.8 1048.8,1045.8 1048.8,1011.2 1044.8,1010.8 1043.8,1005.9 1043.8,999.9 1042.8,998.9 1042.8,994.3 1038.8,993.9 1038.8,989.5 1035.8,988.9 1035.8,975.9 1034.8,972.3 1031.8,971.9 1031.8,934.3 1027.8,933.9 1027.8,926.9 1026.8,925.9 1026.8,883.9 1025.8,881.9 1024.8,875.9 1024.8,816.0 1023.8,814.0 1023.8,794.0 1019.8,793.0 1019.8,790.0 1022.8,789.0 1022.8,787.0 1021.8,786.0 1021.8,751.0 1020.8,750.0 1020.8,744.0"/>
<path d="M1318.9,1048.0H1323.9V1054.0H1318.9ZM1331.8,1049.0H1337.8V1054.0H1331.8ZM1346.8,1049.0H1351.8V1054.0H1346.8ZM1150.4,442.0H1155.5V581.9H1150.4ZM1151.4,581.9H1156.9V743.8H1151.4ZM1147.0,453.0H1158.9V462.0H1147.0ZM1147.0,470.0H1158.9V484.0H1147.0ZM1147.0,494.0H1158.9V498.0H1147.0ZM1147.0,512.0H1158.9V522.0H1147.0ZM1148.0,528.4H1158.9V530.9H1148.0ZM1148.0,542.9H1158.9V557.9H1148.0ZM1148.0,563.9H1158.9V566.9H1148.0ZM1148.0,571.9H1159.9V574.9H1148.0ZM1148.0,582.9H1159.9V587.9H1148.0ZM1148.0,594.9H1159.9V599.9H1148.0ZM1148.0,614.9H1160.9V629.9H1148.0ZM1149.0,637.9H1160.9V643.9H1149.0ZM1149.0,651.9H1160.9V659.9H1149.0ZM1149.0,667.5H1160.9V672.9H1149.0ZM1149.0,680.3H1160.9V690.9H1149.0ZM1149.0,697.3H1160.9V711.8H1149.0ZM1149.0,718.8H1160.9V732.8H1149.0ZM1064.0,1028.8H1068.0V1045.8H1064.0ZM1202.9,1036.8H1207.9V1042.8H1202.9ZM1199.9,1042.8H1210.9V1045.8H1199.9ZM449.9,431.8H460.9V439.8H449.9ZM453.9,427.8H457.9V441.8H453.9ZM595.9,386.9H600.9V392.9H595.9ZM594.9,397.9H600.9V403.9H594.9ZM589.9,411.8H601.9V419.8H589.9ZM589.9,425.8H601.9V435.8H589.9ZM592.9,409.8H597.9V441.8H592.9ZM453.9,442.0H458.9V677.9H453.9ZM449.9,449.0H461.9V457.0H449.9ZM449.9,463.0H461.9V474.0H449.9ZM449.9,481.0H461.9V490.0H449.9ZM449.9,496.0H461.9V500.0H449.9ZM449.9,507.0H461.9V521.0H449.9ZM449.9,528.0H462.3V536.9H449.9ZM450.9,542.9H462.9V545.9H450.9ZM450.9,553.5H462.9V555.9H450.9ZM450.9,567.9H462.9V575.9H450.9ZM450.9,581.9H462.9V591.9H450.9ZM450.9,598.9H462.9V614.9H450.9ZM450.9,621.9H462.9V625.9H450.9ZM450.9,632.9H462.9V636.9H450.9ZM450.9,642.9H462.9V653.9H450.9ZM451.5,659.9H463.9V668.9H451.5ZM452.3,675.9H463.9V743.8H452.3ZM593.9,442.0H599.3V581.9H593.9ZM594.9,581.9H600.9V743.8H594.9ZM589.9,447.0H601.9V454.0H589.9ZM589.9,460.0H601.9V473.0H589.9ZM590.9,486.0H601.9V490.0H590.9ZM590.9,497.6H601.9V505.0H590.9ZM590.9,539.9H602.9V548.9H590.9ZM590.9,555.9H602.9V562.9H590.9ZM591.9,567.9H603.9V573.9H591.9ZM591.9,578.9H603.9V586.9H591.9ZM591.9,592.9H603.9V602.9H591.9ZM591.9,609.5H603.9V619.9H591.9ZM591.9,625.9H603.9V631.9H591.9ZM591.9,642.9H603.9V654.9H591.9ZM591.9,660.9H603.9V663.9H591.9ZM592.9,674.9H604.9V686.9H592.9ZM592.9,693.9H604.9V704.9H592.9ZM592.9,710.8H604.9V726.8H592.9ZM592.9,732.8H604.9V743.8H592.9ZM596.5,744.0H601.9V876.9H596.5ZM592.9,744.0H604.9V748.0H592.9ZM592.9,754.0H604.9V770.0H592.9ZM593.9,777.0H604.9V787.0H593.9ZM593.9,793.0H604.9V798.0H593.9ZM593.9,812.0H604.9V828.0H593.9ZM593.9,833.9H604.9V847.9H593.9ZM593.9,854.9H605.9V868.9H593.9ZM780.0,1039.8H792.0V1045.8H780.0ZM783.0,1033.8H788.0V1039.8H783.0ZM1055.8,1028.8H1064.0V1045.8H1055.8ZM1058.8,1023.2H1064.0V1028.8H1058.8Z"/>
</g>
<g shape-rendering="crispEdges" fill="#000">
<rect x="242" y="85" width="5" height="1270"/>
<rect x="1702" y="86" width="5" height="1269"/>
<rect x="223" y="85" width="1483" height="5"/>
<rect x="234" y="1331" width="1473" height="5"/>
<path d="M311.47 1336h5v8h-5zM311.47 90h5v9h-5zM380.99 1336h5v8h-5zM380.99 90h5v9h-5zM450.51 1336h5v19h-5zM450.51 90h5v19h-5zM520.03 1336h5v8h-5zM520.03 90h5v9h-5zM589.55 1336h5v8h-5zM589.55 90h5v9h-5zM659.07 1336h5v19h-5zM659.07 90h5v19h-5zM728.59 1336h5v8h-5zM728.59 90h5v9h-5zM798.11 1336h5v8h-5zM798.11 90h5v9h-5zM867.63 1336h5v19h-5zM867.63 90h5v19h-5zM937.15 1336h5v8h-5zM937.15 90h5v9h-5zM1006.67 1336h5v8h-5zM1006.67 90h5v9h-5zM1076.19 1336h5v19h-5zM1076.19 90h5v19h-5zM1145.71 1336h5v8h-5zM1145.71 90h5v9h-5zM1215.23 1336h5v8h-5zM1215.23 90h5v9h-5zM1284.75 1336h5v19h-5zM1284.75 90h5v19h-5zM1354.27 1336h5v8h-5zM1354.27 90h5v9h-5zM1423.79 1336h5v8h-5zM1423.79 90h5v9h-5zM1493.31 1336h5v19h-5zM1493.31 90h5v19h-5zM1562.83 1336h5v8h-5zM1562.83 90h5v9h-5zM1632.35 1336h5v8h-5zM1632.35 90h5v9h-5zM234 1283.1h8v5h-8zM1694 1283.1h8v5h-8zM223 1235.1h19v5h-19zM1684 1235.1h18v5h-18zM234 1187.2h8v5h-8zM1694 1187.2h8v5h-8zM234 1139.3h8v5h-8zM1694 1139.3h8v5h-8zM234 1091.4h8v5h-8zM1694 1091.4h8v5h-8zM223 1043.5h19v5h-19zM1684 1043.5h18v5h-18zM234 995.5h8v5h-8zM1694 995.5h8v5h-8zM234 947.6h8v5h-8zM1694 947.6h8v5h-8zM234 899.7h8v5h-8zM1694 899.7h8v5h-8zM223 851.8h19v5h-19zM1684 851.8h18v5h-18zM234 803.8h8v5h-8zM1694 803.8h8v5h-8zM234 755.9h8v5h-8zM1694 755.9h8v5h-8zM234 708.0h8v5h-8zM1694 708.0h8v5h-8zM223 660.1h19v5h-19zM1684 660.1h18v5h-18zM234 612.1h8v5h-8zM1694 612.1h8v5h-8zM234 564.2h8v5h-8zM1694 564.2h8v5h-8zM234 516.3h8v5h-8zM1694 516.3h8v5h-8zM223 468.4h19v5h-19zM1684 468.4h18v5h-18zM234 420.5h8v5h-8zM1694 420.5h8v5h-8zM234 372.5h8v5h-8zM1694 372.5h8v5h-8zM234 324.6h8v5h-8zM1694 324.6h8v5h-8zM223 276.7h19v5h-19zM1684 276.7h18v5h-18zM234 228.8h8v5h-8zM1694 228.8h8v5h-8zM234 180.8h8v5h-8zM1694 180.8h8v5h-8zM234 132.9h8v5h-8zM1694 132.9h8v5h-8z"/>
</g>
<text x="133.4" y="1248.1" font-size="42" textLength="77.2" lengthAdjust="spacingAndGlyphs">0.00</text>
<text x="133.4" y="1056.4" font-size="42" textLength="76.7" lengthAdjust="spacingAndGlyphs">0.01</text>
<text x="133.4" y="864.8" font-size="42" textLength="77.2" lengthAdjust="spacingAndGlyphs">0.02</text>
<text x="133.4" y="673.1" font-size="42" textLength="77.0" lengthAdjust="spacingAndGlyphs">0.03</text>
<text x="133.4" y="481.4" font-size="42" textLength="75.8" lengthAdjust="spacingAndGlyphs">0.04</text>
<text x="133.4" y="289.7" font-size="42" textLength="76.7" lengthAdjust="spacingAndGlyphs">0.05</text>
<text x="133.4" y="98.0" font-size="42" textLength="77.0" lengthAdjust="spacingAndGlyphs">0.06</text>
<text x="232.7" y="1398.0" font-size="42" textLength="22.2" lengthAdjust="spacingAndGlyphs">0</text>
<text x="430.9" y="1398.0" font-size="42" textLength="43.5" lengthAdjust="spacingAndGlyphs">30</text>
<text x="638.9" y="1398.0" font-size="42" textLength="44.2" lengthAdjust="spacingAndGlyphs">60</text>
<text x="847.5" y="1398.0" font-size="42" textLength="44.1" lengthAdjust="spacingAndGlyphs">90</text>
<text x="1044.5" y="1398.0" font-size="42" textLength="66.1" lengthAdjust="spacingAndGlyphs">120</text>
<text x="1253.1" y="1398.0" font-size="42" textLength="66.1" lengthAdjust="spacingAndGlyphs">150</text>
<text x="1461.6" y="1398.0" font-size="42" textLength="66.1" lengthAdjust="spacingAndGlyphs">180</text>
<text x="1671.3" y="1398.0" font-size="42" textLength="65.0" lengthAdjust="spacingAndGlyphs">210</text>
<text><tspan x="1253.9" y="53.0" font-size="37.5" textLength="76.1" lengthAdjust="spacingAndGlyphs">1000</tspan> <tspan x="1340.8" y="53.0" font-size="37.5" textLength="72.3" lengthAdjust="spacingAndGlyphs">ppm</tspan> <tspan x="1422.6" y="53.0" font-size="37.5" textLength="49.7" lengthAdjust="spacingAndGlyphs">CH</tspan><tspan x="1472.7" y="68.0" font-size="21.5" textLength="11.4" lengthAdjust="spacingAndGlyphs">4</tspan> <tspan x="1493.6" y="53.0" font-size="37.5" textLength="10.8" lengthAdjust="spacingAndGlyphs">/</tspan> <tspan x="1514.7" y="53.0" font-size="37.5" textLength="44.6" lengthAdjust="spacingAndGlyphs">RT</tspan> <tspan x="1568.6" y="53.0" font-size="37.5" textLength="10.8" lengthAdjust="spacingAndGlyphs">/</tspan> <tspan x="1589.6" y="53.0" font-size="37.5" textLength="58.5" lengthAdjust="spacingAndGlyphs">Dry</tspan> <tspan x="1654.9" y="53.0" font-size="37.5" textLength="43.5" lengthAdjust="spacingAndGlyphs">air</tspan></text>
<text><tspan x="854.5" y="1483.0" font-size="50" textLength="110.1" lengthAdjust="spacingAndGlyphs">Time</tspan> <tspan x="977.6" y="1483.0" font-size="50" textLength="117.9" lengthAdjust="spacingAndGlyphs">(min)</tspan></text>
<text transform="translate(63,0) rotate(-90)"><tspan x="-1021.1" y="0.0" font-size="52" textLength="175.8" lengthAdjust="spacingAndGlyphs">Sensor</tspan> <tspan x="-831.3" y="0.0" font-size="52" textLength="227.1" lengthAdjust="spacingAndGlyphs">response</tspan> <tspan x="-589.1" y="0.0" font-size="52" textLength="14.3" lengthAdjust="spacingAndGlyphs">(</tspan><tspan x="-573.9" y="0.0" font-size="52" textLength="35.0" lengthAdjust="spacingAndGlyphs">Δ</tspan><tspan x="-541.2" y="0.0" font-size="52" textLength="34.3" lengthAdjust="spacingAndGlyphs">R</tspan><tspan x="-505.5" y="0.0" font-size="52" textLength="15.1" lengthAdjust="spacingAndGlyphs">/</tspan><tspan x="-490.5" y="0.0" font-size="52" textLength="37.7" lengthAdjust="spacingAndGlyphs">R</tspan><tspan x="-453.2" y="20.0" font-size="31" textLength="16.4" lengthAdjust="spacingAndGlyphs">0</tspan><tspan x="-433.1" y="0.0" font-size="52" textLength="14.3" lengthAdjust="spacingAndGlyphs">)</tspan></text>
<path fill="#fefefe" d="M190.14 1051.57H197.42V1057.25H190.14ZM202.82 1051.57H209.62V1057.25H202.82ZM1046.45 1393.12H1053.76V1398.80H1046.45ZM1059.20 1393.12H1066.02V1398.80H1059.20ZM1255.01 1393.12H1262.32V1398.80H1255.01ZM1267.76 1393.12H1274.58V1398.80H1267.76ZM1463.57 1393.12H1470.88V1398.80H1463.57ZM1476.32 1393.12H1483.14V1398.80H1476.32ZM1694.86 1393.12H1702.05V1398.80H1694.86ZM1707.39 1393.12H1714.10V1398.80H1707.39ZM1255.53 48.57H1261.84V53.80H1255.53ZM1266.54 48.57H1272.43V53.80H1266.54Z"/>
</svg></body></html>
